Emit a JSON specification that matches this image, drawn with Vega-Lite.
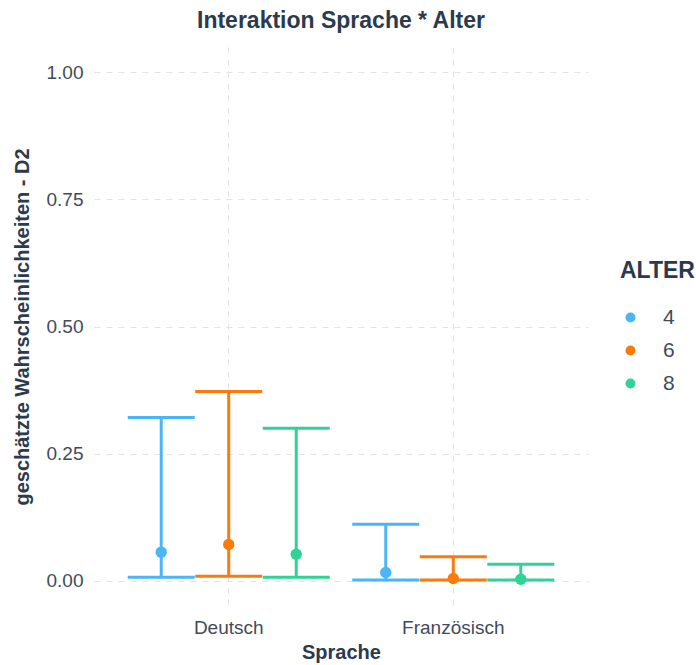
{
  "$schema": "https://vega.github.io/schema/vega-lite/v6.json",
  "width": 494,
  "height": 559,
  "autosize": "none",
  "padding": {"left": 94, "top": 47, "right": 108, "bottom": 59},
  "background": "white",
  "title": {
    "text": "Interaktion Sprache * Alter",
    "anchor": "middle",
    "frame": "group",
    "font": "Liberation Sans",
    "fontSize": 23,
    "fontWeight": "bold",
    "color": "#2b3a4d",
    "offset": 14
  },
  "data": {
    "values": [
      {"Sprache": "Deutsch", "ALTER": "4", "p": 0.056, "lo": 0.0066, "hi": 0.321},
      {"Sprache": "Deutsch", "ALTER": "6", "p": 0.071, "lo": 0.0085, "hi": 0.372},
      {"Sprache": "Deutsch", "ALTER": "8", "p": 0.052, "lo": 0.0066, "hi": 0.300},
      {"Sprache": "Französisch", "ALTER": "4", "p": 0.016, "lo": 0.0013, "hi": 0.111},
      {"Sprache": "Französisch", "ALTER": "6", "p": 0.004, "lo": 0.001, "hi": 0.047},
      {"Sprache": "Französisch", "ALTER": "8", "p": 0.0026, "lo": 0.001, "hi": 0.032}
    ]
  },
  "encoding": {
    "x": {
      "field": "Sprache",
      "type": "nominal",
      "scale": {"paddingInner": 0, "paddingOuter": 0.1},
      "axis": {
        "title": "Sprache",
        "labelAngle": 0,
        "bandPosition": 0.5,
        "grid": true,
        "gridDash": [6, 6],
        "gridColor": "#e3e3e3",
        "gridWidth": 1,
        "domain": false,
        "ticks": false,
        "labelPadding": 12,
        "labelFont": "Liberation Sans",
        "labelFontSize": 19,
        "labelColor": "#3f4b5b",
        "titleFont": "Liberation Sans",
        "titleFontSize": 20,
        "titleFontWeight": "bold",
        "titleColor": "#2b3a4d",
        "titlePadding": 5
      }
    },
    "xOffset": {
      "field": "ALTER",
      "type": "nominal",
      "scale": {"paddingInner": 0, "paddingOuter": 0.163}
    },
    "color": {
      "field": "ALTER",
      "type": "nominal",
      "scale": {"domain": ["4", "6", "8"], "range": ["#4cb5f5", "#f97b0c", "#2fd495"]},
      "legend": {
        "title": "ALTER",
        "orient": "none",
        "legendX": 526,
        "legendY": 213,
        "symbolType": "circle",
        "symbolSize": 100,
        "symbolStrokeWidth": 0,
        "symbolOpacity": 1,
        "titleFont": "Liberation Sans",
        "titleFontSize": 23,
        "titleFontWeight": "bold",
        "titleColor": "#2b3a4d",
        "titlePadding": 24,
        "labelFont": "Liberation Sans",
        "labelFontSize": 21,
        "labelColor": "#3f4b5b",
        "labelOffset": 22,
        "rowPadding": 11,
        "padding": 0
      }
    }
  },
  "layer": [
    {
      "mark": {"type": "rule", "strokeWidth": 3, "opacity": 1},
      "encoding": {
        "y": {
          "field": "lo",
          "type": "quantitative",
          "scale": {"domain": [-0.05, 1.05], "nice": false, "zero": false},
          "axis": {
            "title": "geschätzte Wahrscheinlichkeiten - D2",
            "values": [0, 0.25, 0.5, 0.75, 1],
            "format": ".2f",
            "grid": true,
            "gridDash": [6, 6],
            "gridColor": "#e3e3e3",
            "gridWidth": 1,
            "domain": false,
            "ticks": false,
            "labelPadding": 11,
            "labelFont": "Liberation Sans",
            "labelFontSize": 19,
            "labelColor": "#3f4b5b",
            "titleFont": "Liberation Sans",
            "titleFontSize": 20,
            "titleFontWeight": "bold",
            "titleColor": "#2b3a4d",
            "titlePadding": 14
          }
        },
        "y2": {"field": "hi"}
      }
    },
    {
      "mark": {"type": "tick", "orient": "horizontal", "thickness": 3, "size": 67, "opacity": 1},
      "encoding": {"y": {"field": "lo", "type": "quantitative"}}
    },
    {
      "mark": {"type": "tick", "orient": "horizontal", "thickness": 3, "size": 67, "opacity": 1},
      "encoding": {"y": {"field": "hi", "type": "quantitative"}}
    },
    {
      "mark": {"type": "point", "filled": true, "opacity": 1, "size": 130},
      "encoding": {"y": {"field": "p", "type": "quantitative"}}
    }
  ],
  "config": {"view": {"stroke": null}}
}
